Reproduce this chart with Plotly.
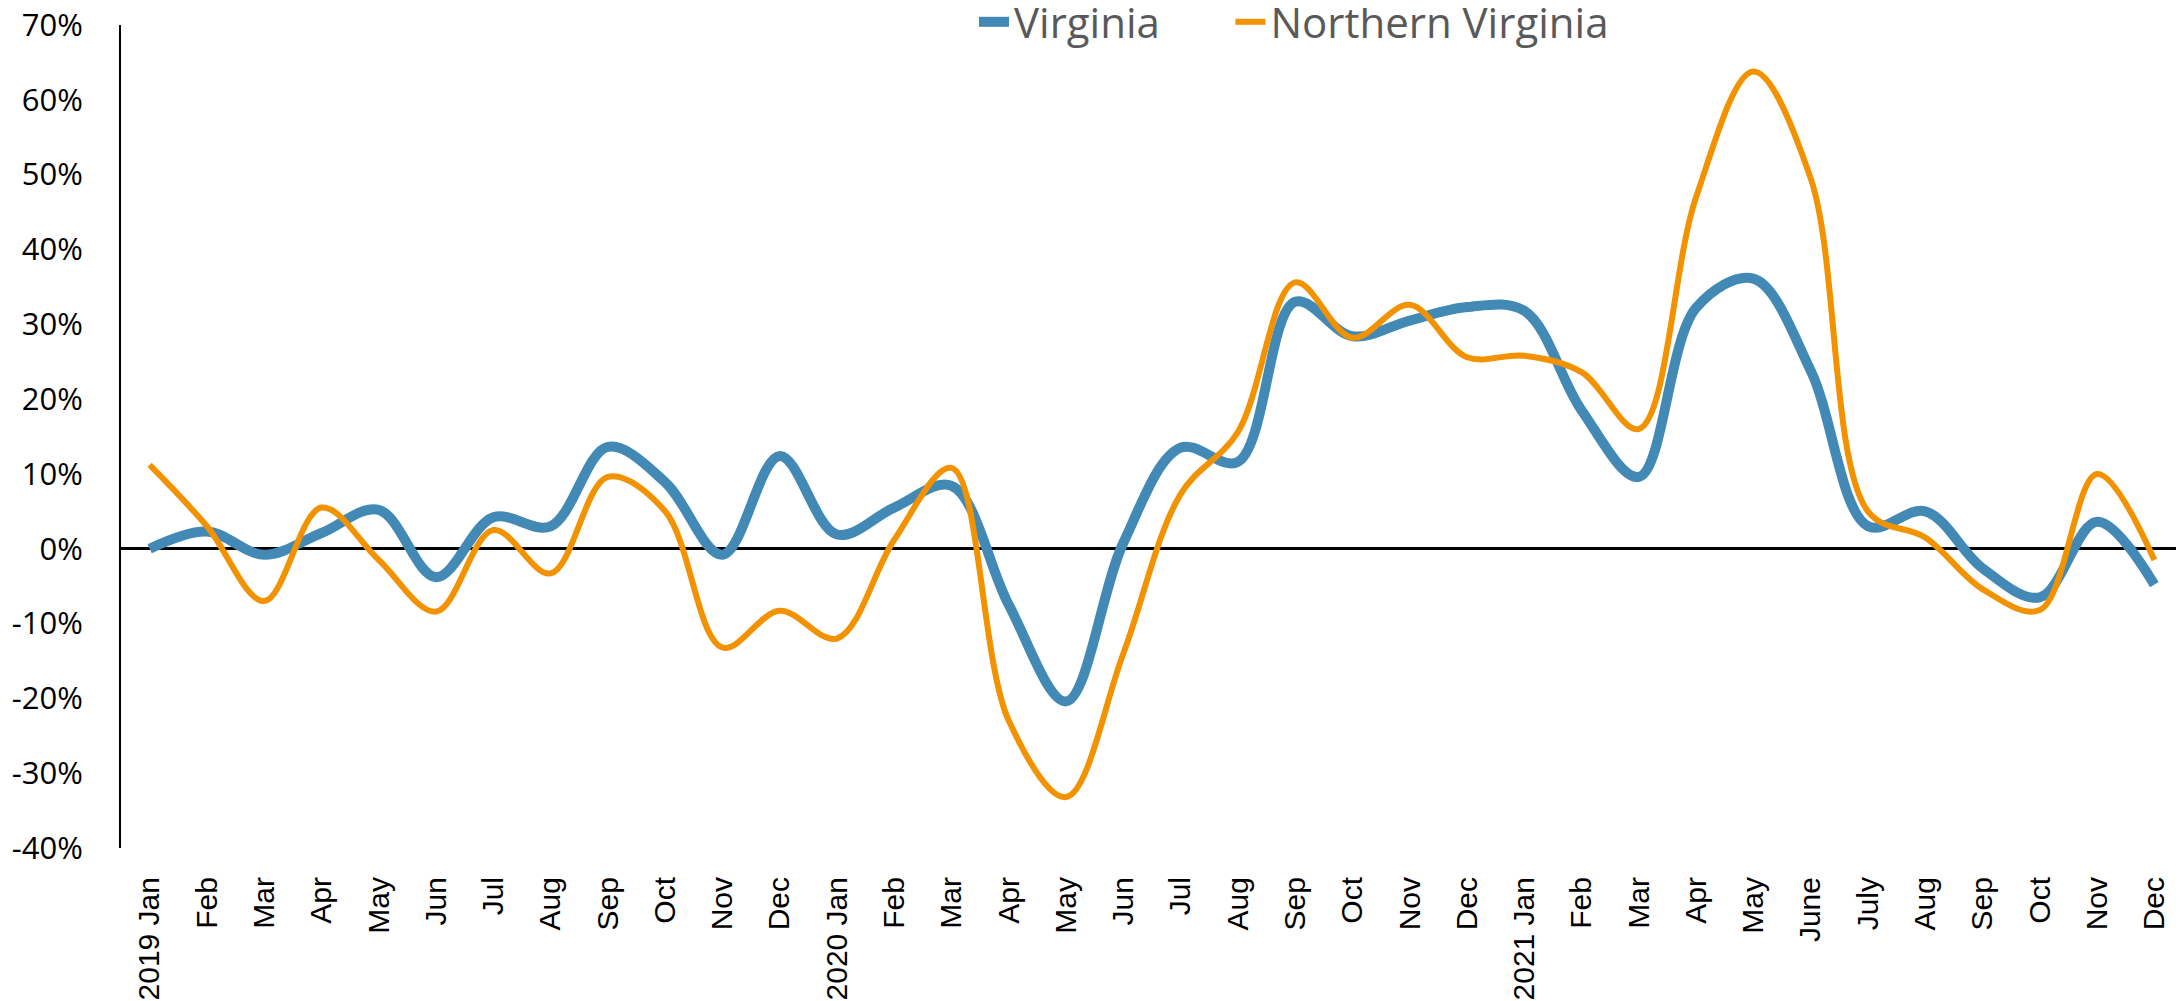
import plotly.graph_objects as go

months = ["2019 Jan", "Feb", "Mar", "Apr", "May", "Jun", "Jul", "Aug", "Sep", "Oct", "Nov", "Dec",
          "2020 Jan", "Feb", "Mar", "Apr", "May", "Jun", "Jul", "Aug", "Sep", "Oct", "Nov", "Dec",
          "2021 Jan", "Feb", "Mar", "Apr", "May", "June", "July", "Aug", "Sep", "Oct", "Nov", "Dec"]

virginia = [0.0, 2.3, -0.8, 2.1, 5.2, -3.8, 4.2, 3.0, 13.6, 8.9, -0.8, 12.4,
            1.9, 5.5, 8.4, -7.5, -20.4, 0.8, 13.5, 11.6, 33.0, 28.4, 30.5, 32.3,
            31.8, 18.5, 9.6, 32.2, 36.1, 23.8, 3.0, 5.0, -2.6, -6.5, 3.6, -4.8]

northern_virginia = [11.2, 3.0, -7.0, 5.5, -1.5, -8.4, 2.5, -3.3, 9.6, 5.0, -13.2, -8.3,
                     -12.0, 1.2, 10.8, -23.0, -33.2, -14.0, 7.3, 15.6, 35.6, 28.2, 32.6, 25.6,
                     25.8, 23.6, 16.0, 47.0, 63.8, 49.5, 5.0, 1.5, -5.4, -8.2, 10.0, -1.5]

x_idx = list(range(len(months)))
y_ticks = list(range(-40, 71, 10))

NBSP = "\u00a0"

# page has an 8px body margin; the figure is sized to fill the rest of the window
W, H = 2176, 993
ML, MR, MT, MB = 113, 1, 17, 153
plot_w = W - ML - MR

fig = go.Figure()
fig.add_trace(go.Scatter(
    x=x_idx, y=virginia, name="Virginia" + NBSP * 6, mode="lines",
    line=dict(color="#428AB5", width=10, shape="spline", smoothing=1.0),
))
fig.add_trace(go.Scatter(
    x=x_idx, y=northern_virginia, name="Northern Virginia", mode="lines",
    line=dict(color="#F39200", width=6, shape="spline", smoothing=1.0),
))

fig.update_layout(
    width=W, height=H,
    margin=dict(l=ML, r=MR, t=MT, b=MB, autoexpand=False),
    paper_bgcolor="white", plot_bgcolor="white",
    font=dict(family="Open Sans, sans-serif", color="black", size=30),
    showlegend=True,
    legend=dict(
        orientation="h", x=(974 - 121) / plot_w, xanchor="left",
        y=1.0 - 14 / H, yanchor="middle", yref="container",
        font=dict(size=42, color="#595959", family="Open Sans, sans-serif"),
        bgcolor="rgba(0,0,0,0)", itemwidth=30,
    ),
)

fig.update_xaxes(
    range=[-0.5, len(months) - 0.5], automargin=False,
    tickmode="array", tickvals=x_idx, ticktext=months,
    tickangle=-90, tickfont=dict(size=30, color="black", family="Liberation Sans, Arial, sans-serif"),
    showgrid=False, showline=False, zeroline=False,
    ticks="outside", ticklen=16, tickcolor="rgba(0,0,0,0)",
    ticklabeloverflow="allow",
)
fig.update_yaxes(
    range=[-40, 70], automargin=False, tickmode="array", tickvals=y_ticks,
    ticktext=[f"{v}%" for v in y_ticks],
    tickfont=dict(size=31, color="black"),
    showgrid=False, showline=True, linecolor="black", linewidth=2,
    zeroline=True, zerolinecolor="black", zerolinewidth=3,
    ticks="outside", ticklen=30, tickcolor="rgba(0,0,0,0)",
    ticklabeloverflow="allow",
)

fig.write_html("out.html")
